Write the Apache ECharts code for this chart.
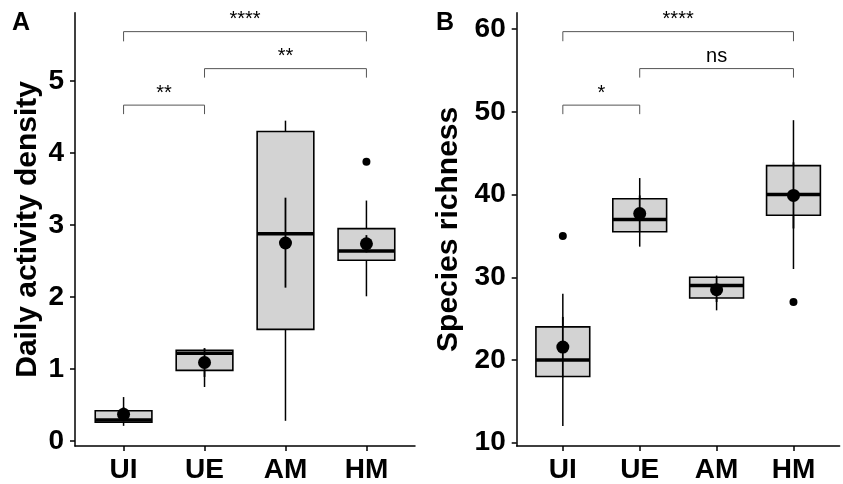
<!DOCTYPE html>
<html><head><meta charset="utf-8">
<script src="https://cdn.jsdelivr.net/npm/echarts@6/dist/echarts.min.js"></script>
<style>html,body{margin:0;padding:0;background:#fff}#c{width:843px;height:484px}</style>
</head><body><div id="c"></div>
<script>
const categories = ['UI', 'UE', 'AM', 'HM'];
const categoryIndex = [0, 1, 2, 3];

// Panel A: Daily activity density
const activityMin = [0.21, 0.75, 0.28, 2.01];
const activityQ1 = [0.26, 0.98, 1.55, 2.51];
const activityMedian = [0.29, 1.22, 2.88, 2.64];
const activityQ3 = [0.42, 1.26, 4.30, 2.95];
const activityMax = [0.61, 1.28, 4.45, 3.34];
const activityMean = [0.37, 1.09, 2.75, 2.74];
const activityErrLow = [0.27, 0.89, 2.13, 2.62];
const activityErrHigh = [0.47, 1.29, 3.38, 2.86];
const activityOutlierCat = [3];
const activityOutlierVal = [3.88];
const activityTicks = [0, 1, 2, 3, 4, 5];

// Panel B: Species richness
const richnessMin = [12, 33.7, 26.0, 31];
const richnessQ1 = [18, 35.5, 27.5, 37.5];
const richnessMedian = [20, 37, 29, 40];
const richnessQ3 = [24, 39.5, 30.0, 43.5];
const richnessMax = [28, 42, 30.2, 49];
const richnessMean = [21.55, 37.7, 28.5, 39.9];
const richnessErrLow = [17.9, 35.5, 27.0, 35.9];
const richnessErrHigh = [25.2, 39.9, 30.0, 43.9];
const richnessOutlierCat = [0, 3];
const richnessOutlierVal = [35, 27];
const richnessTicks = [10, 20, 30, 40, 50, 60];

// Significance brackets (category indices, bracket heights, labels)
const bracketFrom = [0, 1, 0];
const bracketTo = [1, 3, 3];
const activityBracketY = [4.666, 5.173, 5.687];
const activityBracketDrop = [0.125, 0.125, 0.135];
const activityBracketLabels = ['**', '**', '****'];
const richnessBracketY = [50.82, 55.24, 59.71];
const richnessBracketDrop = [1.09, 1.09, 1.16];
const richnessBracketLabels = ['*', 'ns', '****'];

const FONT = 'Liberation Sans, Arial, sans-serif';

function boxRender(params, api) {
  const x = api.value(0);
  const w = api.size([0.7, 0])[0];
  const pMin = api.coord([x, api.value(1)]);
  const pQ1 = api.coord([x, api.value(2)]);
  const pMed = api.coord([x, api.value(3)]);
  const pQ3 = api.coord([x, api.value(4)]);
  const pMax = api.coord([x, api.value(5)]);
  const cx = pMin[0];
  const ls = {stroke: '#000', lineWidth: 1.5};
  return {type: 'group', children: [
    {type: 'line', shape: {x1: cx, y1: pQ1[1], x2: cx, y2: pMin[1]}, style: ls},
    {type: 'line', shape: {x1: cx, y1: pQ3[1], x2: cx, y2: pMax[1]}, style: ls},
    {type: 'rect', shape: {x: cx - w / 2, y: pQ3[1], width: w, height: pQ1[1] - pQ3[1]},
      style: {fill: '#d3d3d3', stroke: '#000', lineWidth: 1.6}},
    {type: 'line', shape: {x1: cx - w / 2, y1: pMed[1], x2: cx + w / 2, y2: pMed[1]},
      style: {stroke: '#000', lineWidth: 3.5}}
  ]};
}

function errRender(params, api) {
  const x = api.value(0);
  const p1 = api.coord([x, api.value(1)]);
  const p2 = api.coord([x, api.value(2)]);
  return {type: 'line', shape: {x1: p1[0], y1: p1[1], x2: p2[0], y2: p2[1]},
    style: {stroke: '#000', lineWidth: 1.8}};
}

function bracketRender(params, api) {
  const a = api.value(0), b = api.value(1), y = api.value(2), d = api.value(3);
  const p1 = api.coord([a, y - d]);
  const p2 = api.coord([a, y]);
  const p3 = api.coord([b, y]);
  const p4 = api.coord([b, y - d]);
  const label = api.value(4);
  return {type: 'group', children: [
    {type: 'polyline', shape: {points: [p1, p2, p3, p4]},
      style: {stroke: '#555', lineWidth: 1, fill: null}},
    {type: 'text', x: (p2[0] + p3[0]) / 2, y: p2[1] - 12,
      style: {text: label, fontSize: 20, fontFamily: FONT, fill: '#000',
        align: 'center', verticalAlign: 'middle'}}
  ]};
}

function xAxisCfg(grid) {
  return {
    type: 'value', gridIndex: grid, min: -0.6, max: 3.6,
    splitLine: {show: false},
    axisLine: {show: true, onZero: false, lineStyle: {color: '#000', width: 1.5}},
    axisTick: {show: true, length: 5, customValues: categoryIndex, lineStyle: {color: '#000', width: 1.5}},
    axisLabel: {customValues: categoryIndex, formatter: v => categories[v], margin: 10,
      fontSize: 28, fontWeight: 'bold', color: '#000', fontFamily: FONT}
  };
}
function yAxisCfg(grid, min, max, ticks, name, gap) {
  return {
    type: 'value', gridIndex: grid, min: min, max: max,
    splitLine: {show: false},
    axisLine: {show: true, onZero: false, lineStyle: {color: '#000', width: 1.5}},
    axisTick: {show: true, length: 5, customValues: ticks, lineStyle: {color: '#000', width: 1.5}},
    axisLabel: {customValues: ticks, margin: 11, fontSize: 28, fontWeight: 'bold', color: '#000', fontFamily: FONT},
    name: name, nameLocation: 'middle', nameGap: gap,
    nameTextStyle: {fontSize: 30, fontWeight: 'bold', color: '#000', fontFamily: FONT}
  };
}

function panelSeries(axisIdx, mins, q1, med, q3, maxs, mean, lo, hi, oc, ov, by, bd, bl) {
  const boxData = categoryIndex.map(i => [i, mins[i], q1[i], med[i], q3[i], maxs[i]]);
  const errData = categoryIndex.map(i => [i, lo[i], hi[i]]);
  const meanData = categoryIndex.map(i => [i, mean[i]]);
  const outData = oc.map((c, k) => [c, ov[k]]);
  const brData = bracketFrom.map((f, k) => [f, bracketTo[k], by[k], bd[k], bl[k]]);
  return [
    {type: 'custom', xAxisIndex: axisIdx, yAxisIndex: axisIdx, renderItem: boxRender, data: boxData,
      encode: {x: 0, y: [1, 5]}, silent: true},
    {type: 'custom', xAxisIndex: axisIdx, yAxisIndex: axisIdx, renderItem: errRender, data: errData,
      encode: {x: 0, y: [1, 2]}, silent: true, z: 3},
    {type: 'scatter', xAxisIndex: axisIdx, yAxisIndex: axisIdx, data: meanData, symbolSize: 13,
      itemStyle: {color: '#000', opacity: 1}, silent: true, z: 4},
    {type: 'scatter', xAxisIndex: axisIdx, yAxisIndex: axisIdx, data: outData, symbolSize: 8,
      itemStyle: {color: '#000', opacity: 1}, silent: true, z: 4},
    {type: 'custom', xAxisIndex: axisIdx, yAxisIndex: axisIdx, renderItem: bracketRender,
      dimensions: ['a', 'b', 'y', 'd', {name: 'label', type: 'ordinal'}],
      data: brData, encode: {x: [0, 1], y: 2}, silent: true}
  ];
}

const chart = echarts.init(document.getElementById('c'), null, {renderer: 'canvas'});
chart.setOption({
  animation: false,
  backgroundColor: '#fff',
  title: [
    {text: 'A', left: 12, top: 11, padding: 0, textStyle: {fontSize: 25, fontWeight: 'bold', color: '#000', fontFamily: FONT}},
    {text: 'B', left: 436, top: 11, padding: 0, textStyle: {fontSize: 25, fontWeight: 'bold', color: '#000', fontFamily: FONT}}
  ],
  grid: [
    {left: 75, top: 12.7, width: 340, height: 434},
    {left: 516.7, top: 12.7, width: 322.9, height: 434}
  ],
  xAxis: [xAxisCfg(0), xAxisCfg(1)],
  yAxis: [
    yAxisCfg(0, -0.07, 5.95, activityTicks, 'Daily activity density', 32),
    yAxisCfg(1, 9.59, 62.0, richnessTicks, 'Species richness', 53)
  ],
  series: [].concat(
    panelSeries(0, activityMin, activityQ1, activityMedian, activityQ3, activityMax, activityMean,
      activityErrLow, activityErrHigh, activityOutlierCat, activityOutlierVal,
      activityBracketY, activityBracketDrop, activityBracketLabels),
    panelSeries(1, richnessMin, richnessQ1, richnessMedian, richnessQ3, richnessMax, richnessMean,
      richnessErrLow, richnessErrHigh, richnessOutlierCat, richnessOutlierVal,
      richnessBracketY, richnessBracketDrop, richnessBracketLabels)
  )
});
</script></body></html>
